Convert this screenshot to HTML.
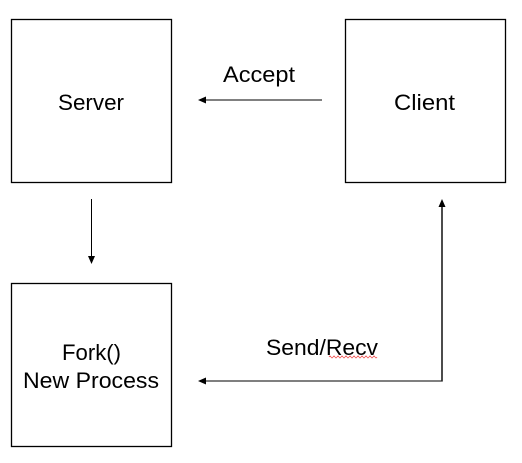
<!DOCTYPE html>
<html><head><meta charset="utf-8"><style>
html,body{margin:0;padding:0;background:#fff;}
</style></head><body>
<svg width="522" height="463" viewBox="0 0 522 463" xmlns="http://www.w3.org/2000/svg" style="display:block">
<g fill="#fff" stroke="#000" stroke-width="1.3">
<rect x="11.5" y="19.5" width="160" height="163"/>
<rect x="345.5" y="19.5" width="160" height="163"/>
<rect x="11.5" y="283.5" width="160" height="163"/>
</g>
<g font-family="Liberation Sans, sans-serif" font-size="22" fill="#000" lengthAdjust="spacingAndGlyphs">
<text x="58" y="110" textLength="66" lengthAdjust="spacingAndGlyphs">Server</text>
<text x="394" y="110" textLength="61" lengthAdjust="spacingAndGlyphs">Client</text>
<text x="223" y="82" textLength="72" lengthAdjust="spacingAndGlyphs">Accept</text>
<text x="62" y="360" textLength="59" lengthAdjust="spacingAndGlyphs">Fork()</text>
<text x="23" y="388" textLength="136" lengthAdjust="spacingAndGlyphs">New Process</text>
<text x="266" y="355" textLength="112" lengthAdjust="spacingAndGlyphs">Send/Recv</text>
</g>
<path d="M329 357 q1 -2 2 0 t2 0 t2 0 t2 0 t2 0 t2 0 t2 0 t2 0 t2 0 t2 0 t2 0 t2 0 t2 0 t2 0 t2 0 t2 0 t2 0 t2 0 t2 0 t2 0 t2 0 t2 0 t2 0 t2 0" fill="none" stroke="#e33" stroke-width="0.7"/>
<line x1="205" y1="100" x2="322" y2="100" stroke="#000" stroke-width="1"/>
<polygon points="198,100 206,96.5 206,103.5" fill="#000"/>
<line x1="91.5" y1="199" x2="91.5" y2="256" stroke="#000" stroke-width="1"/>
<polygon points="91.5,264 88,256 95,256" fill="#000"/>
<polyline points="442,207 442,381 205,381" fill="none" stroke="#555" stroke-width="1.6"/>
<line x1="442" y1="207" x2="442" y2="381" stroke="#000" stroke-width="1"/>
<polygon points="442,199 438.5,207 445.5,207" fill="#000"/>
<polygon points="198,381 206,377.5 206,384.5" fill="#000"/>
</svg>
</body></html>
